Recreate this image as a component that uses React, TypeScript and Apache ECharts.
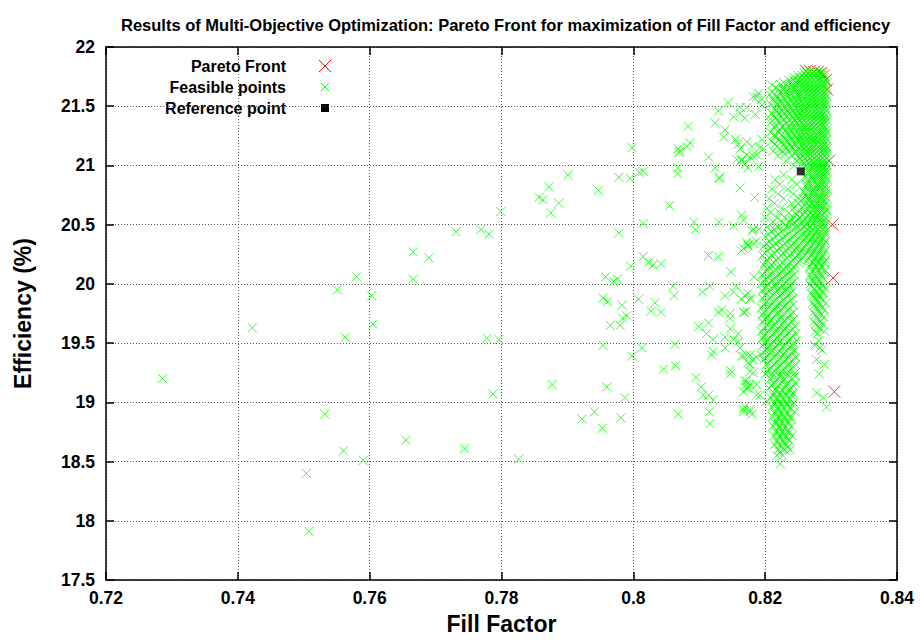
import React, { useEffect, useRef } from "react";
import * as echarts from "echarts";

const titleText =
  "Results of Multi-Objective Optimization: Pareto Front for maximization of Fill Factor and efficiency";
const xName = "Fill Factor";
const yName = "Efficiency (%)";
const legendNames = ["Pareto Front", "Feasible points", "Reference point"];

const xMin = 0.72;
const xMax = 0.84;
const xStep = 0.02;
const yMin = 17.5;
const yMax = 22;
const yStep = 0.5;

const paretoFront: [number, number][] = [
  [0.8262, 21.8], [0.8268, 21.8], [0.8274, 21.79], [0.828, 21.79], [0.8285, 21.78],
  [0.8289, 21.76], [0.8292, 21.72], [0.8294, 21.64], [0.8297, 21.04], [0.8302, 20.5],
  [0.8303, 20.05], [0.8305, 19.09],
];

const referencePoint: [number, number][] = [[0.8254, 20.95]];

// sparse feasible points
const feasibleSparse: [number, number][] = [
  [0.7666, 20.27], [0.7666, 20.04], [0.758, 20.06], [0.7551, 19.95], [0.7603, 19.9],
  [0.7605, 19.66], [0.7563, 19.55], [0.7422, 19.63], [0.7286, 19.2], [0.7532, 18.9],
  [0.7655, 18.68], [0.756, 18.59], [0.759, 18.51], [0.7504, 18.4], [0.7508, 17.91],
  [0.7901, 20.92], [0.7872, 20.82], [0.7857, 20.73], [0.7863, 20.71], [0.7887, 20.68],
  [0.7875, 20.6], [0.7799, 20.61], [0.7947, 20.79], [0.7978, 20.9], [0.7995, 20.89],
  [0.8009, 20.94], [0.8015, 20.95], [0.8055, 20.66], [0.8067, 20.98], [0.8067, 20.93],
  [0.8069, 21.11], [0.8114, 21.07], [0.8124, 20.98], [0.813, 20.89], [0.8162, 20.81],
  [0.8164, 21.04], [0.8177, 21.07], [0.8174, 20.98], [0.8184, 20.73], [0.8015, 20.51],
  [0.7978, 20.43], [0.813, 20.52], [0.8094, 20.46], [0.8152, 20.49], [0.8164, 20.58],
  [0.8167, 20.54], [0.8182, 20.46], [0.7731, 20.44], [0.7769, 20.46], [0.7781, 20.42],
  [0.769, 20.22], [0.8114, 20.24], [0.8129, 20.23], [0.8164, 20.28], [0.8174, 20.33],
  [0.8148, 20.1], [0.8183, 20.06], [0.8015, 20.23], [0.8023, 20.18], [0.803, 20.16],
  [0.8042, 20.17], [0.7996, 20.15], [0.7958, 20.06], [0.797, 20.02], [0.7976, 20.04],
  [0.7954, 19.88], [0.7961, 19.85], [0.7983, 19.82], [0.8008, 19.87], [0.799, 19.73],
  [0.7984, 19.71], [0.7965, 19.65], [0.798, 19.65], [0.8033, 19.84], [0.8027, 19.77],
  [0.8042, 19.76], [0.806, 19.98], [0.8062, 19.9], [0.8105, 19.93], [0.8116, 19.98],
  [0.8139, 19.9], [0.8152, 19.93], [0.8156, 19.98], [0.8164, 19.87], [0.8174, 19.92],
  [0.8178, 19.88], [0.8129, 19.76], [0.8134, 19.78], [0.8147, 19.75], [0.8147, 19.71],
  [0.8168, 19.76], [0.8172, 19.77], [0.8099, 19.64], [0.8114, 19.67], [0.8111, 19.58],
  [0.8121, 19.53], [0.8147, 19.62], [0.8159, 19.58], [0.8152, 19.53], [0.8159, 19.51],
  [0.8139, 19.55], [0.8139, 19.46], [0.8121, 19.43], [0.8119, 19.4], [0.8167, 19.39],
  [0.8177, 19.4], [0.8174, 19.33], [0.8187, 19.38], [0.8182, 19.25], [0.8172, 19.18],
  [0.8177, 19.15], [0.8174, 19.12], [0.8147, 19.27], [0.8147, 19.24], [0.8187, 19.06],
  [0.8013, 19.46], [0.7998, 19.39], [0.7954, 19.48], [0.8063, 19.49], [0.8046, 19.28],
  [0.8064, 19.31], [0.8095, 19.21], [0.8103, 19.13], [0.8106, 19.06], [0.8114, 19.06],
  [0.8121, 19.02], [0.8115, 18.92], [0.8116, 18.82], [0.8167, 18.94], [0.8177, 18.92],
  [0.8068, 18.9], [0.7778, 19.54], [0.7796, 19.53], [0.7877, 19.15], [0.796, 19.13],
  [0.7987, 19.04], [0.7787, 19.07], [0.7941, 18.92], [0.7922, 18.86], [0.7953, 18.78],
  [0.7981, 18.87], [0.7744, 18.61], [0.7826, 18.52],
  [0.7998, 21.15], [0.8083, 21.33], [0.8068, 21.14], [0.8071, 21.12], [0.8086, 21.19],
  [0.8081, 21.16], [0.8124, 21.36], [0.8129, 21.46], [0.8139, 21.3], [0.8137, 21.24],
  [0.8144, 21.53], [0.8152, 21.41], [0.8162, 21.44], [0.8169, 21.4], [0.8162, 21.49],
  [0.8185, 21.43], [0.8187, 21.58], [0.8195, 21.56], [0.8195, 21.51], [0.8155, 21.22],
  [0.8159, 21.18], [0.8162, 21.14], [0.8172, 21.2], [0.818, 21.16], [0.8157, 21.05],
  [0.8164, 21.05], [0.8172, 21.09], [0.8182, 21.08], [0.8192, 21.15], [0.8197, 21.14],
  [0.8131, 20.9], [0.8092, 20.52], [0.818, 20.45], [0.819, 20.46], [0.8167, 20.3],
  [0.8174, 20.32], [0.8187, 20.36], [0.8172, 20.35], [0.8182, 20.34], [0.8169, 19.9],
  [0.8177, 19.87], [0.8167, 19.76], [0.8172, 19.4], [0.8177, 19.32], [0.8172, 19.15],
  [0.8167, 19.09], [0.8177, 18.94], [0.8167, 18.92], [0.8169, 19.18], [0.8172, 19.12],
  [0.8177, 19.26], [0.8164, 19.39], [0.8182, 19.36], [0.8169, 18.96], [0.818, 18.9],
  [0.8192, 19.06], [0.8202, 19.01], [0.8187, 19.15], [0.8162, 19.46],
  [0.8182, 21.58], [0.819, 21.61], [0.8205, 21.41], [0.8172, 21.49], [0.8195, 21.22],
  [0.8187, 21.09], [0.8169, 21.01], [0.819, 20.99],
];

// dense cluster: each row is an efficiency value and the fill factors (x 1e-4) seen along it
const denseRows: [number, number[]][] = [
  [21.79, [8262, 8268, 8274, 8280, 8284]],
  [21.78, [8259, 8265, 8271, 8277, 8283, 8288]],
  [21.76, [8250, 8256, 8262, 8268, 8274, 8280, 8286]],
  [21.74, [8244, 8253, 8259, 8265, 8271, 8277, 8283, 8289]],
  [21.72, [8236, 8243, 8250, 8256, 8262, 8268, 8274, 8280, 8286, 8291]],
  [21.7, [8228, 8240, 8247, 8253, 8259, 8265, 8271, 8277, 8283, 8289, 8294]],
  [21.68, [8210, 8224, 8232, 8240, 8247, 8254, 8260, 8266, 8272, 8278, 8284, 8290]],
  [21.66, [8216, 8228, 8236, 8243, 8250, 8257, 8263, 8269, 8275, 8281, 8287, 8292]],
  [21.64, [8220, 8228, 8236, 8244, 8251, 8258, 8264, 8270, 8276, 8282, 8288, 8293]],
  [21.62, [8211, 8224, 8232, 8240, 8247, 8254, 8261, 8267, 8273, 8279, 8285, 8290]],
  [21.6, [8207, 8215, 8224, 8232, 8240, 8248, 8255, 8262, 8268, 8274, 8280, 8286, 8292]],
  [21.58, [8219, 8228, 8236, 8244, 8251, 8258, 8265, 8271, 8277, 8283, 8289, 8294]],
  [21.56, [8212, 8220, 8229, 8237, 8245, 8252, 8259, 8266, 8272, 8278, 8284, 8290]],
  [21.54, [8215, 8224, 8233, 8241, 8248, 8255, 8262, 8268, 8274, 8280, 8286, 8291]],
  [21.52, [8208, 8218, 8226, 8234, 8242, 8250, 8257, 8264, 8270, 8276, 8282, 8288, 8293]],
  [21.5, [8222, 8230, 8238, 8246, 8253, 8260, 8267, 8273, 8279, 8285, 8290]],
  [21.48, [8214, 8222, 8231, 8239, 8247, 8254, 8261, 8268, 8274, 8280, 8286, 8291]],
  [21.46, [8217, 8226, 8234, 8242, 8250, 8257, 8263, 8269, 8275, 8281, 8287, 8293]],
  [21.44, [8210, 8220, 8229, 8237, 8245, 8252, 8259, 8266, 8272, 8278, 8284, 8290]],
  [21.42, [8213, 8224, 8233, 8241, 8248, 8255, 8262, 8268, 8274, 8280, 8286, 8291]],
  [21.4, [8216, 8225, 8234, 8242, 8250, 8257, 8264, 8270, 8276, 8282, 8288, 8293]],
  [21.38, [8218, 8228, 8237, 8245, 8252, 8259, 8265, 8271, 8277, 8283, 8289, 8294]],
  [21.36, [8208, 8222, 8231, 8240, 8248, 8255, 8262, 8268, 8274, 8280, 8286, 8291]],
  [21.34, [8216, 8227, 8236, 8244, 8251, 8258, 8265, 8271, 8277, 8283, 8288]],
  [21.32, [8214, 8226, 8236, 8244, 8252, 8259, 8266, 8272, 8278, 8284, 8290]],
  [21.3, [8222, 8231, 8240, 8248, 8255, 8262, 8269, 8275, 8281, 8287, 8292]],
  [21.28, [8208, 8220, 8232, 8241, 8249, 8256, 8263, 8270, 8276, 8282, 8288, 8293]],
  [21.26, [8214, 8225, 8236, 8245, 8252, 8259, 8266, 8273, 8279, 8285, 8290]],
  [21.24, [8215, 8228, 8238, 8247, 8254, 8261, 8268, 8274, 8280, 8286, 8291]],
  [21.22, [8221, 8231, 8240, 8249, 8256, 8263, 8270, 8276, 8282, 8288, 8293]],
  [21.2, [8210, 8224, 8234, 8244, 8252, 8259, 8266, 8272, 8278, 8284, 8290]],
  [21.18, [8215, 8228, 8237, 8245, 8253, 8260, 8267, 8273, 8279, 8285, 8291]],
  [21.16, [8218, 8230, 8240, 8249, 8256, 8263, 8270, 8276, 8282, 8288, 8293]],
  [21.14, [8222, 8232, 8242, 8250, 8258, 8265, 8271, 8277, 8283, 8289, 8294]],
  [21.12, [8212, 8226, 8236, 8246, 8254, 8261, 8268, 8274, 8280, 8286, 8291]],
  [21.1, [8230, 8245, 8254, 8261, 8268, 8275, 8281, 8287, 8292]],
  [21.08, [8220, 8240, 8250, 8258, 8265, 8272, 8278, 8284, 8290]],
  [21.06, [8252, 8260, 8268, 8275, 8281, 8287, 8293]],
  [21.04, [8232, 8248, 8256, 8264, 8271, 8278, 8284, 8290]],
  [21.02, [8258, 8266, 8273, 8279, 8285, 8291]],
  [21.0, [8244, 8262, 8269, 8276, 8282, 8288, 8294]],
  [20.98, [8263, 8270, 8277, 8283, 8289]],
  [20.96, [8266, 8273, 8280, 8286, 8292]],
  [20.94, [8266, 8274, 8281, 8287, 8293]],
  [20.92, [8228, 8262, 8270, 8277, 8284, 8290]],
  [20.9, [8262, 8270, 8277, 8284, 8291]],
  [20.88, [8215, 8240, 8266, 8274, 8281, 8288, 8294]],
  [20.86, [8266, 8274, 8281, 8288]],
  [20.84, [8222, 8248, 8263, 8270, 8278, 8285, 8292]],
  [20.82, [8262, 8270, 8277, 8284, 8291]],
  [20.8, [8210, 8234, 8266, 8274, 8281, 8288, 8294]],
  [20.78, [8258, 8266, 8274, 8281, 8288]],
  [20.76, [8220, 8243, 8262, 8270, 8277, 8284, 8291]],
  [20.74, [8262, 8270, 8277, 8284, 8291]],
  [20.72, [8206, 8228, 8250, 8258, 8266, 8273, 8280, 8287, 8294]],
  [20.7, [8255, 8266, 8273, 8280, 8288]],
  [20.68, [8214, 8240, 8250, 8262, 8270, 8277, 8284, 8291]],
  [20.66, [8260, 8268, 8276, 8283, 8290]],
  [20.64, [8203, 8225, 8244, 8256, 8264, 8272, 8279, 8286, 8293]],
  [20.62, [8252, 8264, 8272, 8279, 8286, 8293]],
  [20.6, [8208, 8222, 8236, 8246, 8260, 8268, 8275, 8282, 8289]],
  [20.58, [8248, 8257, 8266, 8273, 8280, 8287]],
  [20.56, [8200, 8218, 8230, 8242, 8252, 8262, 8270, 8277, 8284, 8291]],
  [20.54, [8240, 8250, 8260, 8269, 8276, 8283, 8290]],
  [20.52, [8212, 8226, 8236, 8244, 8256, 8265, 8273, 8280, 8287, 8294]],
  [20.5, [8216, 8230, 8242, 8253, 8263, 8272, 8280, 8288]],
  [20.48, [8203, 8220, 8234, 8248, 8259, 8268, 8276, 8283, 8290]],
  [20.46, [8214, 8228, 8242, 8254, 8264, 8273, 8281, 8288]],
  [20.44, [8210, 8225, 8238, 8250, 8260, 8269, 8277, 8284, 8291]],
  [20.42, [8205, 8220, 8234, 8246, 8257, 8266, 8275, 8283, 8291]],
  [20.4, [8200, 8216, 8230, 8242, 8253, 8263, 8272, 8280, 8288]],
  [20.38, [8211, 8225, 8238, 8250, 8260, 8270, 8279, 8287]],
  [20.36, [8206, 8220, 8233, 8246, 8257, 8267, 8276, 8284, 8291]],
  [20.34, [8202, 8216, 8230, 8243, 8254, 8264, 8273, 8282, 8290]],
  [20.32, [8198, 8212, 8226, 8239, 8250, 8260, 8270, 8279, 8287]],
  [20.3, [8208, 8222, 8235, 8247, 8257, 8267, 8276, 8285]],
  [20.28, [8203, 8217, 8231, 8244, 8255, 8265, 8274, 8283, 8291]],
  [20.26, [8199, 8213, 8227, 8240, 8252, 8263, 8272, 8281, 8290]],
  [20.24, [8196, 8210, 8224, 8237, 8249, 8260, 8270, 8279, 8287]],
  [20.22, [8206, 8220, 8233, 8245, 8256, 8266, 8276, 8285]],
  [20.2, [8202, 8216, 8230, 8242, 8253, 8264, 8274, 8283, 8292]],
  [20.18, [8200, 8213, 8226, 8238, 8250, 8272, 8281, 8290]],
  [20.16, [8198, 8210, 8222, 8234, 8246, 8268, 8277, 8286]],
  [20.14, [8206, 8219, 8231, 8243, 8268, 8277, 8286]],
  [20.12, [8204, 8216, 8228, 8240, 8272, 8281, 8290]],
  [20.1, [8200, 8212, 8225, 8237, 8272, 8281, 8290]],
  [20.08, [8196, 8208, 8220, 8232, 8244, 8268, 8276, 8285]],
  [20.06, [8204, 8216, 8228, 8240, 8268, 8277, 8286]],
  [20.04, [8200, 8212, 8224, 8236, 8272, 8281, 8290]],
  [20.02, [8198, 8209, 8220, 8232, 8244, 8273, 8283]],
  [20.0, [8194, 8205, 8216, 8228, 8240, 8268, 8277, 8286]],
  [19.98, [8202, 8214, 8226, 8238, 8270, 8279, 8288]],
  [19.96, [8198, 8210, 8221, 8233, 8274, 8282, 8292]],
  [19.94, [8196, 8206, 8218, 8230, 8242, 8277, 8286]],
  [19.92, [8202, 8214, 8226, 8238, 8270, 8279, 8288]],
  [19.9, [8200, 8211, 8222, 8234, 8273, 8282]],
  [19.88, [8196, 8207, 8218, 8230, 8242, 8275, 8284]],
  [19.86, [8204, 8215, 8226, 8238, 8279, 8288]],
  [19.84, [8200, 8211, 8222, 8234, 8272, 8281, 8292]],
  [19.82, [8198, 8208, 8219, 8230, 8242, 8275, 8284]],
  [19.8, [8194, 8205, 8216, 8227, 8238, 8277, 8287]],
  [19.78, [8202, 8213, 8224, 8235, 8280, 8290]],
  [19.76, [8198, 8209, 8220, 8231, 8243, 8273, 8282]],
  [19.74, [8196, 8206, 8217, 8228, 8239, 8276, 8285]],
  [19.72, [8202, 8213, 8224, 8235, 8278, 8289]],
  [19.7, [8200, 8210, 8221, 8232, 8243, 8281]],
  [19.68, [8196, 8207, 8218, 8229, 8240, 8274, 8284]],
  [19.66, [8204, 8214, 8225, 8236, 8277, 8287]],
  [19.64, [8200, 8211, 8222, 8233, 8245, 8280]],
  [19.62, [8198, 8208, 8219, 8230, 8241, 8283]],
  [19.6, [8194, 8205, 8216, 8227, 8238, 8276, 8290]],
  [19.58, [8202, 8213, 8224, 8235, 8246, 8279]],
  [19.56, [8198, 8209, 8220, 8231, 8242]],
  [19.54, [8196, 8206, 8217, 8228, 8239]],
  [19.52, [8202, 8213, 8224, 8235, 8247, 8281]],
  [19.5, [8200, 8210, 8221, 8232, 8243]],
  [19.48, [8196, 8207, 8218, 8229, 8240, 8275]],
  [19.46, [8204, 8215, 8226, 8237, 8283]],
  [19.44, [8200, 8211, 8222, 8233, 8244, 8286]],
  [19.42, [8198, 8208, 8219, 8230, 8241]],
  [19.4, [8194, 8205, 8216, 8227, 8238]],
  [19.38, [8202, 8213, 8224, 8235, 8246]],
  [19.36, [8198, 8209, 8220, 8231, 8242, 8278]],
  [19.34, [8206, 8217, 8228, 8239]],
  [19.32, [8202, 8213, 8224, 8235, 8246, 8290]],
  [19.3, [8210, 8221, 8232, 8243]],
  [19.28, [8206, 8217, 8228, 8239]],
  [19.26, [8204, 8214, 8225, 8236]],
  [19.24, [8200, 8211, 8222, 8233, 8244, 8282]],
  [19.22, [8212, 8223, 8234, 8245]],
  [19.2, [8208, 8219, 8230, 8241]],
  [19.18, [8216, 8227, 8238]],
  [19.16, [8212, 8223, 8234, 8246]],
  [19.14, [8210, 8220, 8231, 8242]],
  [19.12, [8206, 8217, 8228, 8239]],
  [19.1, [8216, 8226, 8236]],
  [19.08, [8213, 8222, 8231, 8242, 8278]],
  [19.06, [8212, 8222, 8232, 8240]],
  [19.04, [8209, 8218, 8227, 8236, 8288]],
  [19.02, [8218, 8228, 8238]],
  [19.0, [8214, 8223, 8232, 8243]],
  [18.98, [8214, 8224, 8233, 8241]],
  [18.96, [8210, 8219, 8228, 8237, 8293]],
  [18.94, [8219, 8229, 8238]],
  [18.92, [8215, 8224, 8233, 8245]],
  [18.9, [8215, 8225, 8234]],
  [18.88, [8211, 8220, 8229, 8238]],
  [18.86, [8220, 8230, 8239]],
  [18.84, [8216, 8225, 8234]],
  [18.82, [8216, 8226, 8235]],
  [18.8, [8212, 8221, 8230, 8240]],
  [18.78, [8221, 8231]],
  [18.76, [8217, 8226, 8235]],
  [18.74, [8218, 8227, 8236]],
  [18.72, [8213, 8222, 8231, 8241]],
  [18.7, [8222, 8232]],
  [18.68, [8218, 8227, 8236]],
  [18.66, [8219, 8228]],
  [18.64, [8214, 8223, 8232]],
  [18.62, [8224, 8234]],
  [18.6, [8220, 8229, 8238]],
  [18.58, [8222]],
  [18.55, [8218, 8226]],
  [18.48, [8223]],
];

const feasiblePoints: [number, number][] = [
  ...feasibleSparse,
  ...denseRows.flatMap(([y, xs]) => xs.map((x) => [x / 10000, y] as [number, number])),
];

const crossPath = "path://M0,0L10,10M10,0L0,10";
const FONT = "'Liberation Sans', Arial, Helvetica, sans-serif";

export default function App() {
  const ref = useRef<HTMLDivElement>(null);

  useEffect(() => {
    if (!ref.current) return;
    const chart = echarts.init(ref.current, undefined, { renderer: "svg" });

    const axisLineStyle = { color: "#000", width: 1.5 };
    const gridLine = { show: true, lineStyle: { color: "#555", type: [1, 2] as any, width: 1 } };
    const tickLabel = {
      color: "#000",
      fontSize: 17.5,
      fontWeight: "bold" as const,
      fontFamily: FONT,
    };

    const lx = 286; // legend text right edge
    const sx = 325; // legend symbol centre
    const rows = [66, 87, 108];

    chart.setOption({
      animation: false,
      backgroundColor: "#fff",
      title: {
        text: titleText,
        left: 116,
        top: 11,
        textStyle: {
          fontSize: 16.5,
          fontWeight: "bold",
          fontFamily: "'Liberation Sans Narrow', 'Liberation Sans', Arial, sans-serif",
          color: "#000",
        },
      },
      grid: { left: 106, right: 23, top: 47, bottom: 57, containLabel: false },
      xAxis: [
        {
          type: "value",
          min: xMin,
          max: xMax,
          interval: xStep,
          position: "bottom",
          name: xName,
          nameLocation: "middle",
          nameGap: 32,
          nameTextStyle: { color: "#000", fontSize: 23, fontWeight: "bold", fontFamily: FONT },
          axisLine: { show: true, onZero: false, lineStyle: axisLineStyle },
          axisTick: { show: true, inside: true, length: 8, lineStyle: axisLineStyle },
          axisLabel: {
            ...tickLabel,
            margin: 9,
            formatter: (v: number) => String(Math.round(v * 100) / 100),
          },
          splitLine: gridLine,
        },
        {
          type: "value",
          min: xMin,
          max: xMax,
          interval: xStep,
          position: "top",
          axisLine: { show: true, onZero: false, lineStyle: axisLineStyle },
          axisTick: { show: true, inside: true, length: 8, lineStyle: axisLineStyle },
          axisLabel: { show: false },
          splitLine: { show: false },
        },
      ],
      yAxis: [
        {
          type: "value",
          min: yMin,
          max: yMax,
          interval: yStep,
          position: "left",
          name: yName,
          nameLocation: "middle",
          nameGap: 72,
          nameRotate: 90,
          nameTextStyle: { color: "#000", fontSize: 23, fontWeight: "bold", fontFamily: FONT },
          axisLine: { show: true, onZero: false, lineStyle: axisLineStyle },
          axisTick: { show: true, inside: true, length: 8, lineStyle: axisLineStyle },
          axisLabel: {
            ...tickLabel,
            margin: 11,
            formatter: (v: number) => String(Math.round(v * 10) / 10),
          },
          splitLine: gridLine,
        },
        {
          type: "value",
          min: yMin,
          max: yMax,
          interval: yStep,
          position: "right",
          axisLine: { show: true, onZero: false, lineStyle: axisLineStyle },
          axisTick: { show: true, inside: true, length: 8, lineStyle: axisLineStyle },
          axisLabel: { show: false },
          splitLine: { show: false },
        },
      ],
      series: [
        {
          name: legendNames[0],
          type: "scatter",
          data: paretoFront,
          symbol: crossPath,
          symbolSize: 12,
          silent: true,
          z: 2,
          itemStyle: { color: "rgba(0,0,0,0)", borderColor: "#ff0000", borderWidth: 1 },
        },
        {
          name: legendNames[1],
          type: "scatter",
          data: feasiblePoints,
          symbol: crossPath,
          symbolSize: 9,
          silent: true,
          z: 3,
          itemStyle: { color: "rgba(0,0,0,0)", borderColor: "#00ff00", borderWidth: 1 },
        },
        {
          name: legendNames[2],
          type: "scatter",
          data: referencePoint,
          symbol: "rect",
          symbolSize: 8,
          silent: true,
          z: 4,
          itemStyle: { color: "#000" },
        },
      ],
      graphic: [
        ...legendNames.map((n, i) => ({
          type: "text",
          x: lx,
          y: rows[i],
          silent: true,
          style: {
            text: n,
            align: "right",
            verticalAlign: "middle",
            fontSize: 16,
            fontWeight: "bold",
            fontFamily: FONT,
            fill: "#000",
          },
        })),
        { type: "line", silent: true, shape: { x1: sx - 6, y1: rows[0] - 6, x2: sx + 6, y2: rows[0] + 6 }, style: { stroke: "#ff0000", lineWidth: 1 } },
        { type: "line", silent: true, shape: { x1: sx + 6, y1: rows[0] - 6, x2: sx - 6, y2: rows[0] + 6 }, style: { stroke: "#ff0000", lineWidth: 1 } },
        { type: "line", silent: true, shape: { x1: sx - 4, y1: rows[1] - 4, x2: sx + 4, y2: rows[1] + 4 }, style: { stroke: "#00ff00", lineWidth: 1 } },
        { type: "line", silent: true, shape: { x1: sx + 4, y1: rows[1] - 4, x2: sx - 4, y2: rows[1] + 4 }, style: { stroke: "#00ff00", lineWidth: 1 } },
        { type: "rect", silent: true, shape: { x: sx - 4, y: rows[2] - 4, width: 8, height: 8 }, style: { fill: "#000" } },
      ],
    });

    return () => chart.dispose();
  }, []);

  return (
    <div
      ref={ref}
      style={{ position: "fixed", left: 0, top: 0, width: 920, height: 640, background: "#fff" }}
    />
  );
}
